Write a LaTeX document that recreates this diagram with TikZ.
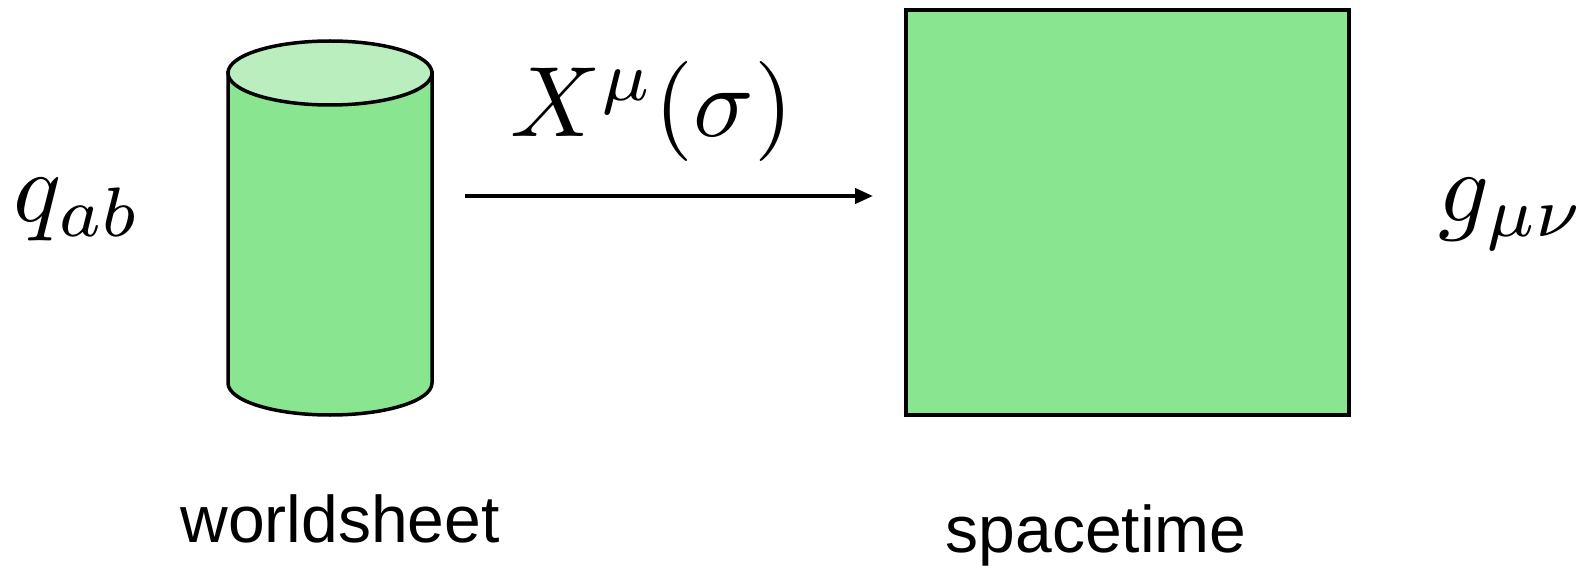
\documentclass[tikz,border=0pt]{standalone}
\usepackage{fontspec}
\newfontfamily\lab{Liberation Sans}
\usetikzlibrary{arrows.meta}
\definecolor{gbody}{RGB}{138,229,144}
\definecolor{gtop}{RGB}{186,238,190}
\tikzset{
  shapeline/.style={draw=black, line width=3.5pt},
  mathlab/.style={inner sep=0pt, anchor=base, font=\fontsize{10}{12}\selectfont, scale=10},
  wordlab/.style={inner sep=0pt, anchor=base, font=\lab\fontsize{66}{72}\selectfont},
  maparrow/.style={line width=4pt, -{Triangle[length=18pt,width=15pt]}}
}
\begin{document}
\begin{tikzpicture}[x=1pt,y=-1pt]
\useasboundingbox (0,0) rectangle (1589,572);
% worldsheet cylinder
\path[fill=gbody, shapeline] (228,73) -- (228,383) arc[start angle=180, end angle=0, x radius=102, y radius=32] -- (432,73) -- cycle;
\path[fill=gtop, shapeline] (330,73) ellipse[x radius=102, y radius=32];
\node[inner sep=0pt, minimum width=204pt, minimum height=374pt] (ws) at (330,228) {};
% spacetime box
\node[fill=gbody, shapeline, inner sep=0pt, minimum width=443pt, minimum height=405pt] (st) at (1127.5,212.5) {};
% arrow
\coordinate (a0) at (465,196);
\coordinate (a1) at (873,196);
\draw[maparrow] (a0) -- (a1);
% labels
\node[mathlab] (X) at (652,137) {$X^\mu(\sigma)$};
\node[mathlab] (q) at (78,222) {$q_{ab}$};
\node[mathlab] (g) at (1512,222) {$g_{\mu\nu}$};
\node[wordlab] (wl) at (340,542) {worldsheet};
\node[wordlab] (sl) at (1096,552) {spacetime};
\end{tikzpicture}
\end{document}
